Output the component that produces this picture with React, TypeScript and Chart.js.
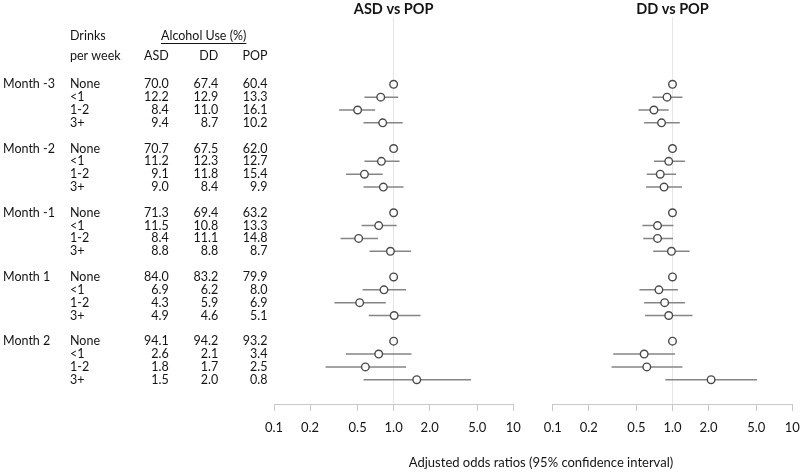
import React, { useEffect, useRef } from 'react';
import { Chart, registerables } from 'chart.js';
Chart.register(...registerables);

const months = ['Month -3', 'Month -2', 'Month -1', 'Month 1', 'Month 2'];
const drinks = ['None', '<1', '1-2', '3+'];

const asdPct = [70.0, 12.2, 8.4, 9.4, 70.7, 11.2, 9.1, 9.0, 71.3, 11.5, 8.4, 8.8, 84.0, 6.9, 4.3, 4.9, 94.1, 2.6, 1.8, 1.5];
const ddPct = [67.4, 12.9, 11.0, 8.7, 67.5, 12.3, 11.8, 8.4, 69.4, 10.8, 11.1, 8.8, 83.2, 6.2, 5.9, 4.6, 94.2, 2.1, 1.7, 2.0];
const popPct = [60.4, 13.3, 16.1, 10.2, 62.0, 12.7, 15.4, 9.9, 63.2, 13.3, 14.8, 8.7, 79.9, 8.0, 6.9, 5.1, 93.2, 3.4, 2.5, 0.8];

const asdOR = [1, 0.78, 0.50, 0.81, 1, 0.79, 0.57, 0.82, 1, 0.75, 0.51, 0.94, 1, 0.83, 0.52, 1.01, 1, 0.75, 0.58, 1.56];
const asdLo = [null, 0.57, 0.35, 0.56, null, 0.57, 0.40, 0.56, null, 0.54, 0.36, 0.63, null, 0.55, 0.32, 0.62, null, 0.40, 0.27, 0.56];
const asdHi = [null, 1.09, 0.70, 1.19, null, 1.12, 0.81, 1.21, null, 1.06, 0.74, 1.40, null, 1.27, 0.86, 1.68, null, 1.41, 1.27, 4.44];

const ddOR = [1, 0.90, 0.70, 0.81, 1, 0.93, 0.79, 0.85, 1, 0.75, 0.75, 0.98, 1, 0.77, 0.86, 0.93, 1, 0.58, 0.61, 2.10];
const ddLo = [null, 0.68, 0.52, 0.58, null, 0.70, 0.61, 0.60, null, 0.56, 0.57, 0.69, null, 0.53, 0.58, 0.59, null, 0.32, 0.31, 0.87];
const ddHi = [null, 1.21, 0.93, 1.15, null, 1.27, 1.07, 1.20, null, 1.02, 1.01, 1.39, null, 1.11, 1.27, 1.47, null, 1.05, 1.21, 5.07];

const tickValues = [0.1, 0.2, 0.5, 1, 2, 5, 10];
const tickLabels = ['0.1', '0.2', '0.5', '1.0', '2.0', '5.0', '10'];

const FONT = 'Lato, "Open Sans", sans-serif';
const TEXT = '#141414';

const rowY = (i: number) => Math.floor(i / 4) * 5 + (i % 4);

function tablePlugin(drawTable: boolean) {
  return {
    id: 'forestText',
    afterDraw(chart: any) {
      const ctx = chart.ctx;
      const area = chart.chartArea;
      const ys = chart.scales.y;
      ctx.save();
      ctx.fillStyle = TEXT;
      ctx.textBaseline = 'middle';
      // panel title
      ctx.font = `bold 14.5px ${FONT}`;
      ctx.textAlign = 'center';
      ctx.fillText(chart.options.plugins.panelTitle, (area.left + area.right) / 2, 9);
      if (drawTable) {
        ctx.font = `12.5px ${FONT}`;
        ctx.textAlign = 'left';
        ctx.fillText('Drinks', 70, 36);
        ctx.fillText('per week', 70, 56);
        ctx.fillText('Alcohol Use (%)', 161, 36);
        const w = ctx.measureText('Alcohol Use (%)').width;
        ctx.strokeStyle = TEXT;
        ctx.lineWidth = 1;
        ctx.beginPath();
        ctx.moveTo(161, 43.5);
        ctx.lineTo(161 + w, 43.5);
        ctx.stroke();
        ctx.textAlign = 'right';
        ctx.fillText('ASD', 168.7, 56);
        ctx.fillText('DD', 218.3, 56);
        ctx.fillText('POP', 267.5, 56);
        for (let i = 0; i < asdPct.length; i++) {
          const y = ys.getPixelForValue(rowY(i));
          ctx.textAlign = 'left';
          if (i % 4 === 0) ctx.fillText(months[i / 4], 3, y);
          ctx.fillText(drinks[i % 4], 70, y);
          ctx.textAlign = 'right';
          ctx.fillText(asdPct[i].toFixed(1), 168.7, y);
          ctx.fillText(ddPct[i].toFixed(1), 218.3, y);
          ctx.fillText(popPct[i].toFixed(1), 267.5, y);
        }
        ctx.font = `13px ${FONT}`;
        ctx.textAlign = 'center';
        ctx.fillText('Adjusted odds ratios (95% confidence interval)', 541, 463);
      }
      ctx.restore();
    },
  };
}

function makeConfig(title: string, or: number[], lo: (number | null)[], hi: (number | null)[], padLeft: number, padRight: number, drawTable: boolean): any {
  const datasets: any[] = [
    {
      data: or.map((v, i) => ({ x: v, y: rowY(i) })),
      showLine: false,
      pointRadius: 3.8,
      pointBackgroundColor: '#ffffff',
      pointBorderColor: '#4a4a4a',
      pointBorderWidth: 1.4,
      order: 0,
    },
  ];
  or.forEach((_, i) => {
    if (lo[i] == null || hi[i] == null) return;
    datasets.push({
      data: [
        { x: lo[i], y: rowY(i) },
        { x: hi[i], y: rowY(i) },
      ],
      showLine: true,
      borderColor: '#858585',
      borderWidth: 1.5,
      pointRadius: 0,
      order: 1,
    });
  });
  return {
    type: 'scatter',
    data: { datasets },
    options: {
      responsive: false,
      animation: false,
      layout: { padding: { left: padLeft, right: padRight, top: 17, bottom: 0 } },
      plugins: {
        legend: { display: false },
        tooltip: { enabled: false },
        title: { display: false },
        panelTitle: title,
      },
      scales: {
        x: {
          type: 'logarithmic',
          min: 0.1,
          max: 10,
          afterBuildTicks: (s: any) => {
            s.ticks = tickValues.map((v) => ({ value: v }));
          },
          afterFit: (s: any) => {
            s.height = 68;
          },
          ticks: {
            autoSkip: false,
            maxRotation: 0,
            padding: 9,
            color: TEXT,
            font: { family: FONT, size: 13 },
            callback: (v: number) => {
              const k = tickValues.findIndex((t) => Math.abs(t - v) < 1e-9);
              return k >= 0 ? tickLabels[k] : '';
            },
          },
          grid: {
            drawTicks: true,
            tickLength: 7,
            tickColor: '#c8c8c8',
            color: (c: any) => (c.tick && Math.abs(c.tick.value - 1) < 1e-9 ? '#e6e6e6' : 'rgba(0,0,0,0)'),
          },
          border: { display: true, color: '#c8c8c8', width: 1 },
        },
        y: {
          type: 'linear',
          reverse: true,
          min: -5.24,
          max: 24.89,
          display: false,
        },
      },
    },
    plugins: [tablePlugin(drawTable)],
  };
}

export default function App() {
  const leftRef = useRef<HTMLCanvasElement>(null);
  const rightRef = useRef<HTMLCanvasElement>(null);
  useEffect(() => {
    const a = new Chart(leftRef.current as HTMLCanvasElement, makeConfig('ASD vs POP', asdOR, asdLo, asdHi, 274, 286.7, true));
    const b = new Chart(rightRef.current as HTMLCanvasElement, makeConfig('DD vs POP', ddOR, ddLo, ddHi, 552.7, 37.7, false));
    return () => {
      a.destroy();
      b.destroy();
    };
  }, []);
  return (
    <div style={{ position: 'fixed', left: 0, top: 0, width: 800, height: 472, overflow: 'hidden', background: '#fff' }}>
      <canvas ref={leftRef} width={800} height={472} style={{ position: 'absolute', left: 0, top: 0 }} />
      <canvas ref={rightRef} width={830} height={472} style={{ position: 'absolute', left: 0, top: 0 }} />
    </div>
  );
}
